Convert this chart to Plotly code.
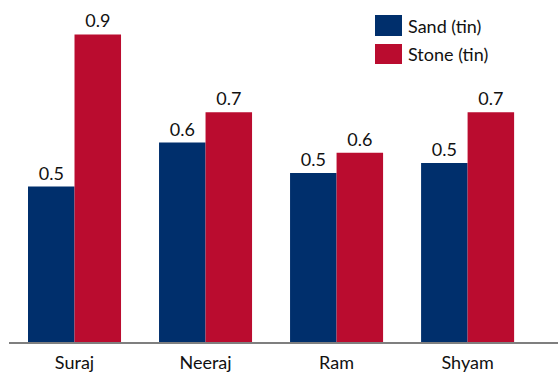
import plotly.graph_objects as go

# Data
people = ["Suraj", "Neeraj", "Ram", "Shyam"]
sand_tins = [0.46, 0.59, 0.50, 0.53]
stone_tins = [0.91, 0.68, 0.56, 0.68]
series_names = ["Sand (tin)", "Stone (tin)"]
series_colors = ["#002F6C", "#BA0C2F"]

FONT = "Lato, 'Open Sans', sans-serif"
TEXT_COLOR = "#111111"

fig = go.Figure()
for name, vals, color in zip(series_names, [sand_tins, stone_tins], series_colors):
    fig.add_trace(go.Bar(
        x=people, y=vals, name=name,
        marker=dict(color=color, line=dict(width=0)),
        texttemplate="%{y:.1f}", textposition="outside",
        textfont=dict(size=18, color=TEXT_COLOR, family=FONT),
        cliponaxis=False, showlegend=False,
    ))

# Custom legend: large colour swatches with labels
legend_x0, legend_x1 = 375, 402
legend_rows = [(15, 36), (44, 64)]
W, H = 558, 373
for (y0, y1), name, color in zip(legend_rows, series_names, series_colors):
    fig.add_shape(type="rect", xref="paper", yref="paper",
                  x0=(legend_x0 - 9) / (W - 9), x1=(legend_x1 - 9) / (W - 9),
                  y0=1 - y1 / 342, y1=1 - y0 / 342,
                  fillcolor=color, line=dict(width=0))
    fig.add_annotation(xref="paper", yref="paper",
                       x=(legend_x1 + 4 - 9) / (W - 9), y=1 - ((y0 + y1) / 2) / 342,
                       text=name, showarrow=False, xanchor="left", yanchor="middle",
                       font=dict(size=18, color=TEXT_COLOR, family=FONT))

fig.update_layout(
    width=W, height=H,
    margin=dict(l=9, r=0, t=0, b=31),
    barmode="group", bargap=0.29, bargroupgap=0,
    plot_bgcolor="white", paper_bgcolor="white",
    font=dict(family=FONT, size=18, color=TEXT_COLOR),
    xaxis=dict(range=[-0.5, 3.69], showline=True, linecolor="#7f7f7f", linewidth=1.5,
               ticks="", showgrid=False, ticklabelstandoff=4,
               tickfont=dict(size=18, color=TEXT_COLOR)),
    yaxis=dict(range=[0, 1.012], visible=False, showgrid=False, zeroline=False),
)

fig.write_html("out.html")
